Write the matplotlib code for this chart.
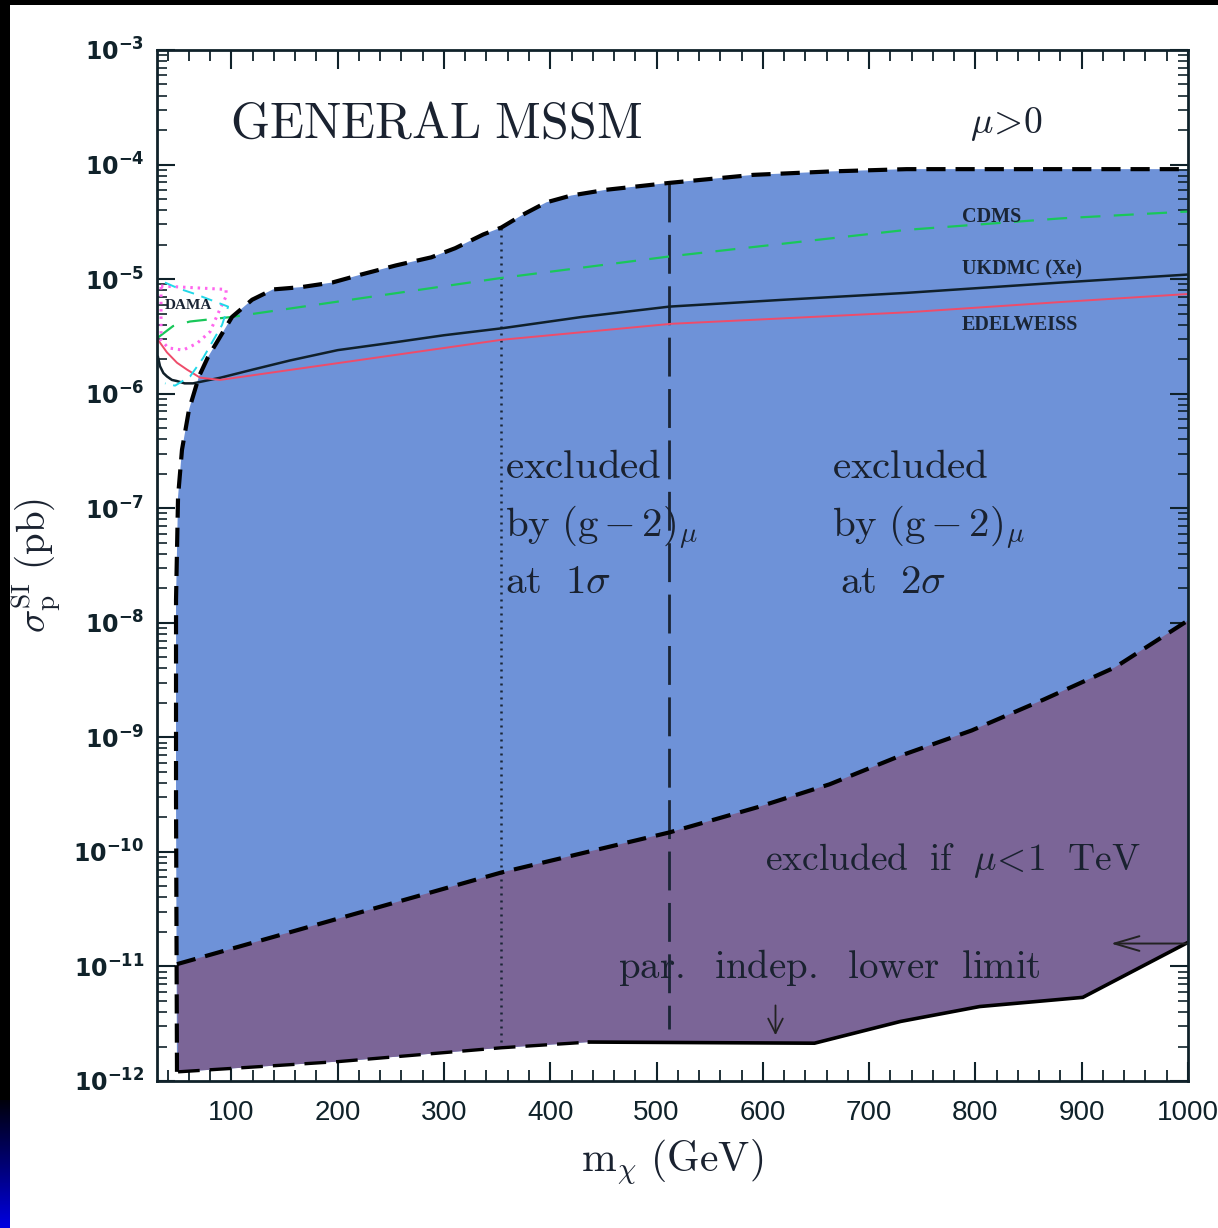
import numpy as np
import matplotlib
matplotlib.use("Agg")
import matplotlib.pyplot as plt
from matplotlib.patches import Rectangle
from matplotlib.colors import LinearSegmentedColormap

# ---------------- data (x = m_chi in GeV, y = log10 sigma in pb) ----------------
upper_x = [48.8, 47.9, 47.9, 49.8, 53.5, 60.1, 69.5, 78.0, 100.6, 119.5, 139.2, 165.6,
           194.8, 222.1, 255.0, 288.0, 310.6, 337.0, 353.9, 373.7, 396.3, 419.8, 452.8,
           492.3, 512.1, 591.0, 663.7, 735.3, 1000.0]
upper_ly = [-11.92, -9.55, -7.80, -6.90, -6.49, -6.14, -5.85, -5.68, -5.33, -5.18, -5.09,
            -5.07, -5.03, -4.96, -4.88, -4.81, -4.73, -4.61, -4.55, -4.44, -4.33, -4.27,
            -4.22, -4.18, -4.16, -4.09, -4.06, -4.04, -4.04]

lower_x = [48.8, 353.9, 512.1, 595.0, 662.8, 729.6, 796.5, 864.3, 931.1, 1000.0]
lower_ly = [-10.98, -10.18, -9.83, -9.61, -9.41, -9.16, -8.94, -8.67, -8.39, -7.98]

bottom_dash_x = [49.8, 201.4, 353.9, 436.8]
bottom_dash_ly = [-11.92, -11.83, -11.71, -11.66]
bottom_solid_x = [436.8, 648.6, 729.6, 804.0, 901.0, 1000.0]
bottom_solid_ly = [-11.66, -11.67, -11.48, -11.35, -11.27, -10.79]

cdms_x = [30.9, 45.1, 61.1, 100.6, 353.9, 514.0, 735.3, 880.3, 1000.0]
cdms_ly = [-5.51, -5.41, -5.37, -5.33, -4.99, -4.80, -4.57, -4.47, -4.41]

ukdmc_x = [30.9, 32.8, 36.0, 39.4, 44.0, 48.8, 56.0, 63.9, 90.0, 120.0, 155.2, 200.0,
           255.0, 300.0, 353.9, 430.0, 512.1, 620.0, 735.3, 880.3, 1000.0]
ukdmc_ly = [-5.68, -5.76, -5.82, -5.85, -5.88, -5.89, -5.91, -5.91, -5.86, -5.79, -5.71,
            -5.62, -5.55, -5.49, -5.43, -5.33, -5.24, -5.18, -5.12, -5.03, -4.96]

edel_x = [30.9, 39.4, 48.8, 58.2, 70.5, 89.3, 353.9, 514.0, 735.3, 880.3, 1000.0]
edel_ly = [-5.53, -5.64, -5.73, -5.79, -5.86, -5.88, -5.53, -5.39, -5.29, -5.20, -5.13]

dama_in_x = [33.8, 95.0, 95.0, 87.4, 79.9, 67.7, 54.5, 40.4, 33.8, 33.8]
dama_in_ly = [-5.06, -5.09, -5.15, -5.30, -5.46, -5.56, -5.62, -5.60, -5.53, -5.06]

dama_out_x = [37.5, 49.8, 65.8, 96.9, 91.2, 73.3, 61.1, 47.0, 37.5]
dama_out_ly = [-5.03, -5.08, -5.13, -5.24, -5.40, -5.69, -5.85, -5.93, -5.91]

g2_1sigma_x = 353.9
g2_1sigma_ly = (-4.55, -11.71)
g2_2sigma_x = 512.1
g2_2sigma_ly = (-4.16, -11.55)

arrow_left = ((1000.0, -10.80), (927.5, -10.80))
arrow_down = ((611.9, -11.34), (611.9, -11.60))

xticks = [100, 200, 300, 400, 500, 600, 700, 800, 900, 1000]
xticklabels = ["100", "200", "300", "400", "500", "600", "700", "800", "900", "1000"]
yexps = [-12, -11, -10, -9, -8, -7, -6, -5, -4, -3]


def p(v):
    return np.power(10.0, np.asarray(v, dtype=float))


BLUE = "#6e92d8"
PURPLE = "#7b6597"

fig = plt.figure(figsize=(12.18, 12.28), dpi=100)
fig.patch.set_facecolor("white")

# frame decorations of the slide
fig.add_artist(Rectangle((0, 0), 10 / 1218, 1, transform=fig.transFigure,
                         facecolor="black", edgecolor="none", zorder=0))
fig.add_artist(Rectangle((0, 1 - 5 / 1228), 1, 5 / 1228, transform=fig.transFigure,
                         facecolor="black", edgecolor="none", zorder=0))
gax = fig.add_axes([0, 0, 10 / 1218, 128 / 1228])
cmap = LinearSegmentedColormap.from_list("g", [(0, 0, 0.88), (0, 0, 0.45), (0, 0, 0.05)])
gax.imshow(np.linspace(0, 1, 100).reshape(-1, 1), cmap=cmap, aspect="auto",
           origin="lower")
gax.axis("off")

ax = fig.add_axes([157 / 1218, 147 / 1228, 1031 / 1218, 1031 / 1228])
ax.set_yscale("log")
ax.set_xlim(30, 1000)
ax.set_ylim(1e-12, 1e-3)

# regions
outer_x = list(upper_x) + list(bottom_solid_x[::-1]) + list(bottom_dash_x[::-1])
outer_y = list(upper_ly) + list(bottom_solid_ly[::-1]) + list(bottom_dash_ly[::-1])
ax.fill(outer_x, p(outer_y), color=BLUE, lw=0, zorder=1)
purple_x = list(lower_x) + list(bottom_solid_x[::-1]) + list(bottom_dash_x[::-1])
purple_y = list(lower_ly) + list(bottom_solid_ly[::-1]) + list(bottom_dash_ly[::-1])
ax.fill(purple_x, p(purple_y), color=PURPLE, lw=0, zorder=2)

# experimental limits
ax.plot(cdms_x, p(cdms_ly), color="#19c75a", lw=1.6, ls=(0, (9, 6)), zorder=4)
ax.plot(ukdmc_x, p(ukdmc_ly), color="#10202a", lw=1.8, zorder=4)
ax.plot(edel_x, p(edel_ly), color="#ee4c6a", lw=1.4, zorder=4)
ax.plot(dama_in_x, p(dama_in_ly), color="#ff66ee", lw=2.2, ls=(0, (0.8, 1.6)), zorder=4)
ax.plot(dama_out_x, p(dama_out_ly), color="#22d8e8", lw=1.4, ls=(0, (6, 4)), zorder=4)

# boundaries
ax.plot(upper_x, p(upper_ly), color="black", lw=3.0, ls=(0, (4.6, 2.4)), zorder=5)
ax.plot(lower_x, p(lower_ly), color="black", lw=3.0, ls=(0, (4.6, 2.4)), zorder=5)
ax.plot(bottom_dash_x, p(bottom_dash_ly), color="black", lw=2.4, ls=(0, (6.5, 3)), zorder=5)
ax.plot(bottom_solid_x, p(bottom_solid_ly), color="black", lw=2.6, zorder=5)

ax.plot([g2_1sigma_x, g2_1sigma_x], p(g2_1sigma_ly), color="#1a2535", lw=1.8,
        ls=(0, (0.8, 2.0)), zorder=3)
ax.plot([g2_2sigma_x, g2_2sigma_x], p(g2_2sigma_ly), color="#1a2535", lw=2.0,
        ls=(0, (14, 4.5)), zorder=3)

# arrows
ax.annotate("", xy=(arrow_left[1][0], p(arrow_left[1][1])),
            xytext=(arrow_left[0][0], p(arrow_left[0][1])),
            arrowprops=dict(arrowstyle="->,head_length=0.75,head_width=0.22",
                            lw=1.4, color="#222", mutation_scale=24, shrinkA=0, shrinkB=0),
            zorder=6)
ax.annotate("", xy=(arrow_down[1][0], p(arrow_down[1][1])),
            xytext=(arrow_down[0][0], p(arrow_down[0][1])),
            arrowprops=dict(arrowstyle="->,head_length=0.7,head_width=0.35",
                            lw=1.3, color="#222", mutation_scale=15, shrinkA=0, shrinkB=0),
            zorder=6)

# texts
tc = "#1a2230"
T = ax.transAxes
ax.text(0.0708, 0.9146, r"$\mathrm{GENERAL\ MSSM}$", transform=T, fontsize=36,
        math_fontfamily="cm", color=tc, va="baseline", ha="left", zorder=7)
ax.text(0.7886, 0.9195, r"$\mu\!>\!0$", transform=T, fontsize=27,
        math_fontfamily="cm", color=tc, va="baseline", ha="left", zorder=7)

small = dict(transform=T, fontsize=14.5, family="Liberation Serif", weight="bold",
             color="#1a2535", va="baseline", ha="left", zorder=7)
ax.text(0.7808, 0.8332, "CDMS", **small)
ax.text(0.7808, 0.7818, "UKDMC (Xe)", **small)
ax.text(0.7808, 0.7284, "EDELWEISS", **small)
ax.text(0.0078, 0.7488, "DAMA", transform=T, fontsize=11, family="Liberation Serif",
        weight="bold", color="#1a2535", va="baseline", ha="left", zorder=7)

big = dict(transform=T, fontsize=29.5, math_fontfamily="cm", color=tc,
           va="baseline", ha="left", zorder=7)
ax.text(0.3375, 0.5849, r"$\mathrm{excluded}$", **big)
ax.text(0.3375, 0.5276, r"$\mathrm{by\ (g\,{-}\,2)}_{\mu}$", **big)
ax.text(0.3375, 0.4733, r"$\mathrm{at\ \ 1}\sigma$", **big)
ax.text(0.6547, 0.5849, r"$\mathrm{excluded}$", **big)
ax.text(0.6547, 0.5276, r"$\mathrm{by\ (g\,{-}\,2)}_{\mu}$", **big)
ax.text(0.6625, 0.4733, r"$\mathrm{at\ \ 2}\sigma$", **big)
big2 = dict(big, fontsize=27)
ax.text(0.5897, 0.2047, r"$\mathrm{excluded\ \ if\ \ }\mu\!<\!\mathrm{1\ \ TeV}$", **big2)
ax.text(0.4471, 0.0999, r"$\mathrm{par.\ \ indep.\ \ lower\ \ limit}$", **dict(big, fontsize=28))

# axes styling
for s in ax.spines.values():
    s.set_linewidth(2.0)
    s.set_color("#10222a")
    s.set_zorder(8)

ax.set_xticks(xticks)
ax.set_xticklabels(xticklabels, fontsize=20, family="Liberation Sans", color="#10222a")
ax.set_xticks(np.arange(40, 1000, 20), minor=True)
ax.set_yticks(p(yexps))
ax.set_yticklabels([r"$\mathbf{10^{%d}}$" % e for e in yexps], fontsize=17, color="#10222a")
ax.yaxis.set_minor_locator(matplotlib.ticker.LogLocator(base=10, subs=np.arange(2, 10), numticks=20))
ax.yaxis.set_minor_formatter(matplotlib.ticker.NullFormatter())

ax.tick_params(which="both", direction="in", top=True, right=True, color="#10222a")
ax.tick_params(axis="x", which="major", length=14, width=1.5, pad=14)
ax.tick_params(axis="x", which="minor", length=8, width=1.3)
ax.tick_params(axis="y", which="major", length=13, width=1.5, pad=9)
ax.tick_params(axis="y", which="minor", length=7, width=1.2)

ax.set_xlabel(r"$\mathrm{m}_{\chi}\ \mathrm{(GeV)}$", fontsize=30, math_fontfamily="cm",
              color=tc, labelpad=8)
ax.set_ylabel(r"$\sigma_{\mathrm{p}}^{\mathrm{SI}}\ \mathrm{(pb)}$", fontsize=28,
              math_fontfamily="cm", color=tc, labelpad=8)

fig.savefig("out.png", dpi=100, facecolor="white")
